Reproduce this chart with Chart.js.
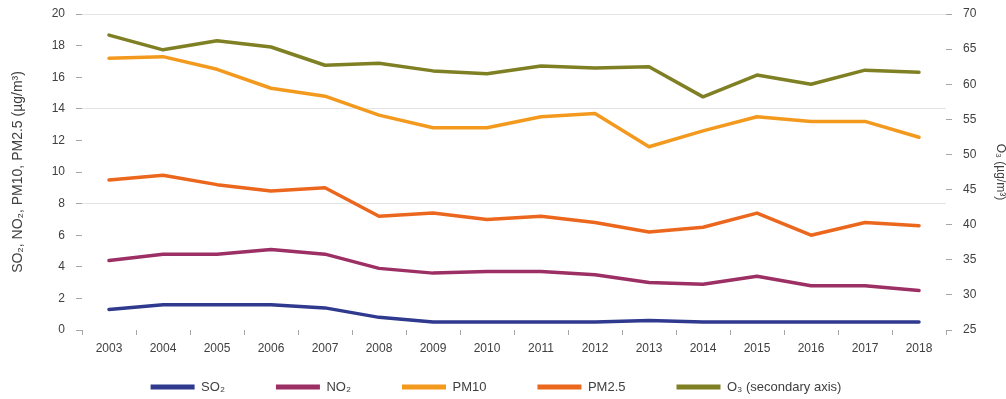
<!DOCTYPE html>
<html>
<head>
<meta charset="utf-8">
<script src="https://cdn.jsdelivr.net/npm/chart.js@4.4.1/dist/chart.umd.min.js"></script>
<style>
  html, body { margin: 0; padding: 0; background: #ffffff; }
  #wrap { width: 1006px; height: 399px; }
</style>
</head>
<body>
<div id="wrap"><canvas id="chart" width="1006" height="399"></canvas></div>
<script>
// Annual mean concentrations, µg/m³
const years = ['2003', '2004', '2005', '2006', '2007', '2008', '2009', '2010',
               '2011', '2012', '2013', '2014', '2015', '2016', '2017', '2018'];
const so2  = [1.3, 1.6, 1.6, 1.6, 1.4, 0.8, 0.5, 0.5, 0.5, 0.5, 0.6, 0.5, 0.5, 0.5, 0.5, 0.5];
const no2  = [4.4, 4.8, 4.8, 5.1, 4.8, 3.9, 3.6, 3.7, 3.7, 3.5, 3.0, 2.9, 3.4, 2.8, 2.8, 2.5];
const pm10 = [17.2, 17.3, 16.5, 15.3, 14.8, 13.6, 12.8, 12.8, 13.5, 13.7, 11.6, 12.6, 13.5, 13.2, 13.2, 12.2];
const pm25 = [9.5, 9.8, 9.2, 8.8, 9.0, 7.2, 7.4, 7.0, 7.2, 6.8, 6.2, 6.5, 7.4, 6.0, 6.8, 6.6];
const o3   = [67.0, 64.9, 66.2, 65.3, 62.7, 63.0, 61.9, 61.5, 62.6, 62.3, 62.5, 58.2, 61.3, 60.0, 62.0, 61.7];

// Axis ranges
const leftMin = 0, leftMax = 20, leftStep = 2;
const rightMin = 25, rightMax = 70, rightStep = 5;

const FONT = "'Liberation Sans', 'DejaVu Sans', Arial, sans-serif";
const TEXT = '#404040';
const TICK_MARK = '#a6a6a6';
const LEGEND_GAP = 51;        // space between legend entries
const LEGEND_ROW_Y = 387;     // vertical centre of the legend row
const LEGEND_SHIFT = -7;      // horizontal nudge of the legend row

function line(label, data, color, axis) {
  return {
    label, data, yAxisID: axis,
    borderColor: color, backgroundColor: color,
    borderWidth: 3.5, pointRadius: 0, tension: 0,
    borderJoinStyle: 'round', borderCapStyle: 'round'
  };
}

// Value axes: fixed width, and only half a label of head room above/below
function fitValueAxis(width) {
  return s => {
    s.width = width;
    s.paddingTop = 4;
    s.paddingBottom = 4;
  };
}

// The legend takes little room in the layout, then is placed on its row
const legendRow = {
  id: 'legendRow',
  afterLayout(chart) {
    const lg = chart.legend;
    if (!lg) return;
    const fs = lg.options.labels.font.size;
    const top = LEGEND_ROW_Y - LEGEND_GAP - fs / 2;
    lg.top = top;
    lg.bottom = top + LEGEND_GAP + fs + 20;
    lg.height = lg.bottom - lg.top;
    lg.left += LEGEND_SHIFT;
    lg.right += LEGEND_SHIFT;
  }
};

new Chart(document.getElementById('chart'), {
  type: 'line',
  data: {
    labels: years,
    datasets: [
      line('SO₂', so2, '#2f3a8f', 'y'),
      line('NO₂', no2, '#9c2f63', 'y'),
      line('PM10', pm10, '#f39a1e', 'y'),
      line('PM2.5', pm25, '#ec671e', 'y'),
      line('O₃ (secondary axis)', o3, '#7f7f24', 'y1')
    ]
  },
  plugins: [legendRow],
  options: {
    responsive: false,
    animation: false,
    layout: { padding: { top: 14, left: 0, right: 0, bottom: 0 } },
    plugins: {
      tooltip: { enabled: false },
      legend: {
        position: 'bottom',
        maxHeight: 9,
        labels: {
          boxWidth: 44, boxHeight: 5, padding: LEGEND_GAP,
          color: TEXT, font: { family: FONT, size: 13 },
          generateLabels(chart) {
            return Chart.defaults.plugins.legend.labels.generateLabels(chart)
              .map(item => Object.assign(item, { lineWidth: 0 }));
          }
        }
      }
    },
    scales: {
      x: {
        offset: true,
        afterFit: s => { s.height = 60; },
        border: { display: false },
        grid: { offset: true, drawOnChartArea: false, drawTicks: true, tickLength: 5, color: TICK_MARK },
        ticks: { color: TEXT, padding: 6, maxRotation: 0, autoSkip: false, font: { family: FONT, size: 12 } }
      },
      y: {
        position: 'left',
        min: leftMin, max: leftMax,
        afterFit: fitValueAxis(82),
        border: { display: false },
        grid: {
          drawTicks: true, tickLength: 6, tickColor: TICK_MARK,
          color: c => (c.tick && [8, 14, 20].includes(c.tick.value)) ? '#e4e4e4' : 'rgba(0,0,0,0)'
        },
        ticks: { stepSize: leftStep, padding: 11, color: TEXT, font: { family: FONT, size: 12 } },
        title: {
          display: true, text: 'SO₂, NO₂, PM10, PM2.5 (µg/m³)',
          color: TEXT, font: { family: FONT, size: 14 }, padding: { top: 10, bottom: 0 }
        }
      },
      y1: {
        position: 'right',
        min: rightMin, max: rightMax,
        afterFit: fitValueAxis(60),
        border: { display: false },
        grid: { drawOnChartArea: false, drawTicks: true, tickLength: 6, tickColor: TICK_MARK },
        ticks: { stepSize: rightStep, padding: 11, color: TEXT, font: { family: FONT, size: 12 } },
        title: {
          display: true, text: 'O₃ (µg/m³)',
          color: TEXT, font: { family: FONT, size: 12 }, padding: { top: -2, bottom: 0 }
        }
      }
    }
  }
});
</script>
</body>
</html>
